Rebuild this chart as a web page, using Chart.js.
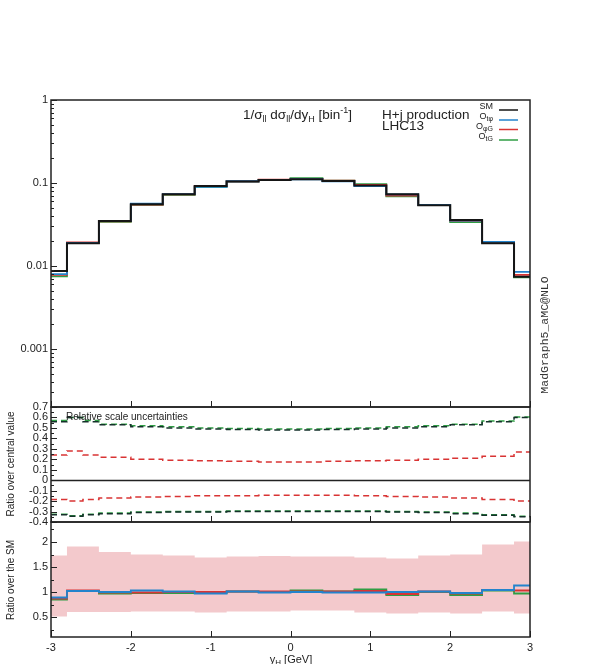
<!DOCTYPE html>
<html>
<head>
<meta charset="utf-8">
<script src="https://cdn.jsdelivr.net/npm/chart.js@4.4.1/dist/chart.umd.min.js"></script>
<style>
body { margin: 0; background: #fff; }
#wrap { position: relative; width: 592px; height: 664px; overflow: hidden; }
canvas { position: absolute; left: 0; }
</style>
</head>
<body>
<div id="wrap">
  <canvas id="main" width="592" height="420" style="top:0px"></canvas>
  <canvas id="unc" width="592" height="140" style="top:395px"></canvas>
  <canvas id="ratio" width="592" height="154" style="top:510px"></canvas>
</div>
<script>
// bin edges in y_H
const binEdges = [-3, -2.8, -2.4, -2.0, -1.6, -1.2, -0.8, -0.4, 0, 0.4, 0.8, 1.2, 1.6, 2.0, 2.4, 2.8, 3];
const uncEdges = [-3, -2.8, -2.6, -2.4, -2.0, -1.6, -1.2, -0.8, -0.4, 0, 0.4, 0.8, 1.2, 1.6, 2.0, 2.4, 2.8, 3];

// main panel: 1/sigma dsigma/dy_H
const distSM    = [0.0087, 0.0188, 0.0348, 0.0553, 0.0730, 0.092, 0.104, 0.109, 0.111, 0.1057, 0.093, 0.073, 0.054, 0.0358, 0.0188, 0.0074];
const distOtphi = [0.0080, 0.0190, 0.0348, 0.0565, 0.0735, 0.090, 0.105, 0.108, 0.111, 0.1050, 0.092, 0.073, 0.0545, 0.0352, 0.0195, 0.0085];
const distOphiG = [0.0078, 0.0193, 0.0346, 0.0550, 0.0730, 0.092, 0.105, 0.110, 0.112, 0.1070, 0.095, 0.0705, 0.0545, 0.0350, 0.0195, 0.0078];
const distOtG   = [0.0075, 0.0190, 0.0340, 0.0545, 0.0718, 0.090, 0.105, 0.109, 0.114, 0.1070, 0.097, 0.0690, 0.054, 0.0338, 0.0193, 0.0073];

// middle panel: relative scale uncertainties
const uncSMUp    = [0.56, 0.60, 0.56, 0.53, 0.51, 0.50, 0.49, 0.485, 0.48, 0.48, 0.485, 0.49, 0.50, 0.51, 0.53, 0.56, 0.60];
const uncGreenUp = [0.57, 0.60, 0.57, 0.535, 0.52, 0.51, 0.50, 0.495, 0.49, 0.49, 0.495, 0.50, 0.51, 0.52, 0.535, 0.565, 0.605];
const uncRedUp   = [0.24, 0.28, 0.24, 0.22, 0.20, 0.19, 0.185, 0.18, 0.175, 0.175, 0.18, 0.185, 0.19, 0.20, 0.21, 0.23, 0.27];
const uncRedLow  = [-0.185, -0.20, -0.185, -0.17, -0.16, -0.155, -0.15, -0.15, -0.145, -0.145, -0.145, -0.15, -0.155, -0.16, -0.17, -0.185, -0.20];
const uncSMLow   = [-0.33, -0.345, -0.33, -0.32, -0.31, -0.305, -0.305, -0.30, -0.30, -0.30, -0.30, -0.30, -0.305, -0.31, -0.32, -0.335, -0.35];
const uncGreenLow = [-0.325, -0.34, -0.325, -0.315, -0.305, -0.30, -0.30, -0.295, -0.295, -0.295, -0.295, -0.295, -0.30, -0.305, -0.315, -0.33, -0.345];

// bottom panel: ratio over the SM
const ratioOtphi = [0.89, 1.02, 1.00, 1.03, 1.01, 0.97, 1.01, 0.99, 1.00, 0.99, 0.99, 1.00, 1.01, 0.98, 1.04, 1.13];
const ratioOphiG = [0.87, 1.03, 0.99, 0.99, 1.00, 1.00, 1.01, 1.01, 1.01, 1.01, 1.02, 0.96, 1.01, 0.97, 1.04, 1.03];
const ratioOtG   = [0.85, 1.02, 0.97, 0.98, 0.98, 0.98, 1.01, 1.00, 1.03, 1.01, 1.05, 0.94, 1.00, 0.94, 1.03, 0.97];
const bandUp  = [1.73, 1.91, 1.80, 1.75, 1.73, 1.69, 1.71, 1.72, 1.71, 1.71, 1.69, 1.67, 1.73, 1.75, 1.95, 2.01];
const bandLow = [0.51, 0.60, 0.60, 0.61, 0.61, 0.59, 0.61, 0.61, 0.63, 0.63, 0.59, 0.57, 0.59, 0.57, 0.61, 0.57];

// ticks
const xTicks = [-3, -2, -1, 0, 1, 2, 3];
const xTickLabels = ['-3', '-2', '-1', '0', '1', '2', '3'];
const mainTicks = [0.001, 0.01, 0.1, 1];
const mainTickLabels = ['0.001', '0.01', '0.1', '1'];
const uncTicks = [0.7, 0.6, 0.5, 0.4, 0.3, 0.2, 0.1, 0, -0.1, -0.2, -0.3, -0.4];
const uncTickLabels = ['0.7', '0.6', '0.5', '0.4', '0.3', '0.2', '0.1', '0', '-0.1', '-0.2', '-0.3', '-0.4'];
const ratioTicks = [0.5, 1, 1.5, 2];
const ratioTickLabels = ['0.5', '1', '1.5', '2'];

const FONT = '"Liberation Sans", Arial, Helvetica, sans-serif';
const C_SM = '#151515', C_BLUE = '#2383cc', C_RED = '#d93434', C_GREEN = '#2f9e44';

function steps(edges, vals) {
    const pts = vals.map((v, i) => ({x: edges[i], y: v}));
    pts.push({x: edges[vals.length], y: vals[vals.length - 1]});
    return pts;
}

function line(edges, vals, color, width, dash) {
    return {
        data: steps(edges, vals),
        borderColor: color,
        borderWidth: width,
        borderDash: dash || [],
        stepped: true,
        pointRadius: 0,
        fill: false
    };
}

function rich(ctx, x, y, parts, align) {
    let w = 0;
    parts.forEach(p => { ctx.font = p[1] + 'px ' + FONT; w += ctx.measureText(p[0]).width; });
    let cx = align === 'right' ? x - w : (align === 'center' ? x - w / 2 : x);
    ctx.textAlign = 'left';
    parts.forEach(p => {
        ctx.font = p[1] + 'px ' + FONT;
        ctx.fillText(p[0], cx, y + (p[2] || 0));
        cx += ctx.measureText(p[0]).width;
    });
}

function yAxis(type, min, max, ticks, labels) {
    return {
        type: type, min: min, max: max,
        afterFit: s => { s.width = 51; },
        afterBuildTicks: s => { s.ticks = ticks.map(v => ({value: v})); },
        ticks: {
            callback: (v, i) => labels[i],
            font: {family: FONT, size: 11}, color: '#222', padding: 3, autoSkip: false
        },
        grid: {display: false, drawTicks: false},
        border: {display: false}
    };
}

function deco(cfg) {
    return {
        id: 'deco',
        afterDatasetsDraw(chart) {
            const ctx = chart.ctx, a = chart.chartArea;
            const xs = chart.scales.x, ys = chart.scales.y;
            ctx.save();
            ctx.strokeStyle = '#222';
            ctx.lineWidth = 1;
            ctx.beginPath();
            cfg.yMajor.forEach(v => {
                const p = Math.round(ys.getPixelForValue(v)) + 0.5;
                ctx.moveTo(a.left, p); ctx.lineTo(a.left + 6, p);
            });
            cfg.yMinor.forEach(v => {
                const p = Math.round(ys.getPixelForValue(v)) + 0.5;
                ctx.moveTo(a.left, p); ctx.lineTo(a.left + 3, p);
            });
            xTicks.forEach(v => {
                const p = Math.round(xs.getPixelForValue(v)) + 0.5;
                ctx.moveTo(p, a.bottom); ctx.lineTo(p, a.bottom - 6);
            });
            ctx.stroke();
            ctx.lineWidth = 1.5;
            ctx.strokeRect(a.left, a.top, a.right - a.left, a.bottom - a.top);
            ctx.fillStyle = '#222';
            ctx.textBaseline = 'alphabetic';
            if (cfg.extra) cfg.extra(chart, ctx, a);
            ctx.restore();
        }
    };
}

function baseOptions(padding, yScale, xVisible) {
    return {
        responsive: false,
        animation: false,
        devicePixelRatio: 1,
        layout: {padding: padding},
        plugins: {legend: {display: false}, tooltip: {enabled: false}},
        scales: {
            x: {
                type: 'linear', min: -3, max: 3,
                afterFit: s => { s.height = xVisible ? 27 : 0; },
                afterBuildTicks: s => { s.ticks = xTicks.map(v => ({value: v})); },
                ticks: {
                    display: xVisible,
                    callback: (v, i) => xTickLabels[i],
                    font: {family: FONT, size: 11}, color: '#222', padding: 4,
                    autoSkip: false, maxRotation: 0
                },
                grid: {display: false, drawTicks: false},
                border: {display: false}
            },
            y: yScale
        }
    };
}

// log minor tick positions
const logMinor = [];
[0.0001, 0.001, 0.01, 0.1].forEach(d => { for (let k = 2; k <= 9; k++) if (d * k >= 0.0002) logMinor.push(d * k); });

new Chart(document.getElementById('main'), {
    type: 'line',
    data: {
        datasets: [
            line(binEdges, distSM, C_SM, 2),
            line(binEdges, distOtphi, C_BLUE, 1.8),
            line(binEdges, distOphiG, C_RED, 1.8),
            line(binEdges, distOtG, C_GREEN, 1.8)
        ]
    },
    options: baseOptions({top: 100, right: 62, bottom: 13, left: 0},
        yAxis('logarithmic', 0.0002, 1, mainTicks, mainTickLabels), false),
    plugins: [deco({
        yMajor: mainTicks, yMinor: logMinor,
        extra(chart, ctx, a) {
            rich(ctx, 243, 119, [['1/σ', 13.5], ['ll', 9, 3], [' dσ', 13.5], ['ll', 9, 3], ['/dy', 13.5], ['H', 9, 3], [' [bin', 13.5], ['-1', 9, -6], [']', 13.5]]);
            rich(ctx, 382, 119, [['H+j production', 13.5]]);
            rich(ctx, 382, 130, [['LHC13', 13.5]]);
            const legend = [
                [[['SM', 9]], C_SM, 110],
                [[['O', 9], ['tφ', 7, 2]], C_BLUE, 120],
                [[['O', 9], ['φG', 7, 2]], C_RED, 129.5],
                [[['O', 9], ['tG', 7, 2]], C_GREEN, 140]
            ];
            legend.forEach(l => {
                ctx.fillStyle = '#222';
                rich(ctx, 493, l[2] - 1, l[0], 'right');
                ctx.strokeStyle = l[1];
                ctx.lineWidth = 1.5;
                ctx.beginPath();
                ctx.moveTo(499, l[2]); ctx.lineTo(518, l[2]);
                ctx.stroke();
            });
            ctx.save();
            ctx.translate(548, 335);
            ctx.rotate(-Math.PI / 2);
            ctx.fillStyle = '#333';
            ctx.font = '11.5px "Liberation Mono", "DejaVu Sans Mono", monospace';
            ctx.textAlign = 'center';
            ctx.fillText('MadGraph5_aMC@NLO', 0, 0);
            ctx.restore();
        }
    })]
});

const uncMinor = [];
uncTicks.forEach(v => { if (v > -0.4) uncMinor.push(v - 0.05); });

new Chart(document.getElementById('unc'), {
    type: 'line',
    data: {
        datasets: [
            line(uncEdges, uncSMUp, '#15302a', 1.5, [6, 4]),
            line(uncEdges, uncSMLow, '#15302a', 1.5, [6, 4]),
            line(uncEdges, uncGreenUp, C_GREEN, 1.5, [6, 4]),
            line(uncEdges, uncGreenLow, C_GREEN, 1.5, [6, 4]),
            line(uncEdges, uncRedUp, C_RED, 1.5, [6, 4]),
            line(uncEdges, uncRedLow, C_RED, 1.5, [6, 4])
        ]
    },
    options: baseOptions({top: 12, right: 62, bottom: 13, left: 0},
        yAxis('linear', -0.4, 0.7, uncTicks, uncTickLabels), false),
    plugins: [deco({
        yMajor: uncTicks, yMinor: uncMinor,
        extra(chart, ctx, a) {
            const z = Math.round(chart.scales.y.getPixelForValue(0)) + 0.5;
            ctx.lineWidth = 1.5;
            ctx.beginPath();
            ctx.moveTo(a.left, z); ctx.lineTo(a.right, z);
            ctx.stroke();
            rich(ctx, 66, 25, [['Relative scale uncertainties', 10]]);
            ctx.save();
            ctx.translate(14, 69);
            ctx.rotate(-Math.PI / 2);
            rich(ctx, 0, 0, [['Ratio over central value', 10]], 'center');
            ctx.restore();
        }
    })]
});

const ratioMinor = [0.25, 0.75, 1.25, 1.75, 2.25];

const bandUpSet = line(binEdges, bandUp, 'rgba(0,0,0,0)', 0);
bandUpSet.fill = '+1';
bandUpSet.backgroundColor = '#f3c9cc';
const bandLowSet = line(binEdges, bandLow, 'rgba(0,0,0,0)', 0);

new Chart(document.getElementById('ratio'), {
    type: 'line',
    data: {
        datasets: [
            line(binEdges, ratioOtphi, C_BLUE, 1.8),
            line(binEdges, ratioOphiG, C_RED, 1.8),
            line(binEdges, ratioOtG, C_GREEN, 1.8),
            bandUpSet,
            bandLowSet
        ]
    },
    options: baseOptions({top: 12, right: 62, bottom: 0, left: 0},
        yAxis('linear', 0.1, 2.4, ratioTicks, ratioTickLabels), true),
    plugins: [deco({
        yMajor: ratioTicks, yMinor: ratioMinor,
        extra(chart, ctx, a) {
            ctx.save();
            ctx.translate(14, 70);
            ctx.rotate(-Math.PI / 2);
            rich(ctx, 0, 0, [['Ratio over the SM', 10]], 'center');
            ctx.restore();
            rich(ctx, 291, 153, [['y', 11], ['H', 8, 2], [' [GeV]', 11]], 'center');
        }
    })]
});
</script>
</body>
</html>
